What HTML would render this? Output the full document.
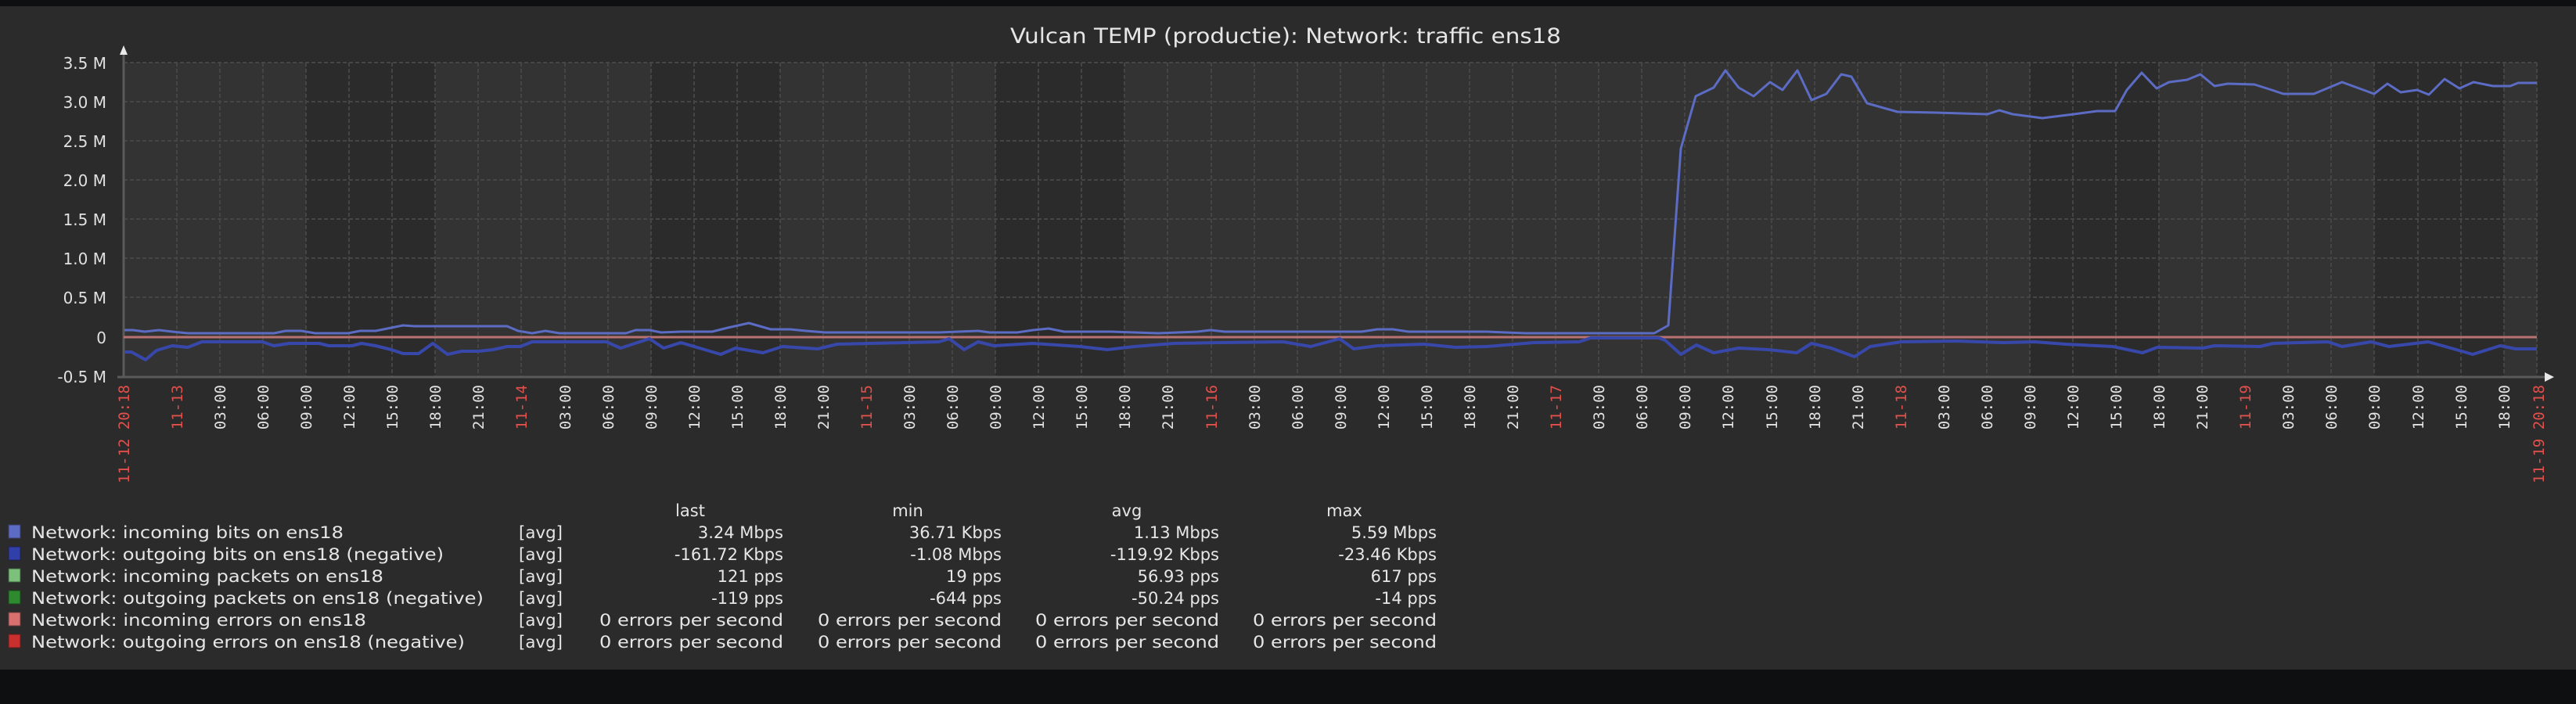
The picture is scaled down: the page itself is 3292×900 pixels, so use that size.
<!DOCTYPE html>
<html><head><meta charset="utf-8"><style>
html,body{margin:0;padding:0;background:#2b2b2b;width:3292px;height:900px;overflow:hidden}
svg{display:block}
.yl{font-family:"DejaVu Sans","Liberation Sans",sans-serif;font-size:20px;fill:#e0e0e0;text-anchor:end}
.xl{font-family:"DejaVu Sans Mono","Liberation Mono",monospace;font-size:19px;fill:#e2e2e2;text-anchor:end}
.xr{font-family:"DejaVu Sans Mono","Liberation Mono",monospace;font-size:19px;fill:#e0504c;text-anchor:end}
.lg{font-family:"DejaVu Sans","Liberation Sans",sans-serif;font-size:21px;fill:#e6e6e6}
</style></head><body>
<svg width="3292" height="900" xmlns="http://www.w3.org/2000/svg">
<rect x="0" y="0" width="3292" height="900" fill="#2b2b2b"/>
<rect x="0" y="0" width="3292" height="8" fill="#0e0f11"/>
<rect x="0" y="856" width="3292" height="44" fill="#0e0f11"/>
<text x="1643" y="55" font-family="DejaVu Sans, Liberation Sans, sans-serif" font-size="27" fill="#e6e6e6" text-anchor="middle" textLength="704" lengthAdjust="spacingAndGlyphs">Vulcan TEMP (productie): Network: traffic ens18</text>
<rect x="158" y="80" width="3084" height="402" fill="#333333"/>
<g fill="#2b2b2b">
<rect x="391" y="80" width="165" height="402"/>
<rect x="832" y="80" width="165" height="402"/>
<rect x="1272" y="80" width="165" height="402"/>
<rect x="2594" y="80" width="165" height="402"/>
<rect x="3034" y="80" width="166" height="402"/>
</g>
<path d="M158 80H3242M158 130H3242M158 180H3242M158 230H3242M158 280H3242M158 330H3242M158 380H3242" stroke="#454545" stroke-width="2" stroke-dasharray="5,3"/>
<path d="M226 80V482M281 80V482M336 80V482M391 80V482M446 80V482M501 80V482M556 80V482M611 80V482M666 80V482M722 80V482M777 80V482M832 80V482M887 80V482M942 80V482M997 80V482M1052 80V482M1107 80V482M1162 80V482M1217 80V482M1272 80V482M1327 80V482M1382 80V482M1437 80V482M1492 80V482M1548 80V482M1603 80V482M1658 80V482M1713 80V482M1768 80V482M1823 80V482M1878 80V482M1933 80V482M1988 80V482M2043 80V482M2098 80V482M2153 80V482M2208 80V482M2264 80V482M2319 80V482M2374 80V482M2429 80V482M2484 80V482M2539 80V482M2594 80V482M2649 80V482M2704 80V482M2759 80V482M2814 80V482M2869 80V482M2924 80V482M2979 80V482M3034 80V482M3090 80V482M3145 80V482M3200 80V482M3242 80V482" stroke="#454545" stroke-width="2" stroke-dasharray="5,3"/>
<path d="M158 66V482M150 482H3252" stroke="#5a5a5a" stroke-width="3"/>
<polygon points="158,58 153,70 163,70" fill="#e8e8e8"/>
<polygon points="3264,482 3252,476 3252,488" fill="#e8e8e8"/>
<text class="yl" x="136" y="88">3.5 M</text>
<text class="yl" x="136" y="138">3.0 M</text>
<text class="yl" x="136" y="188">2.5 M</text>
<text class="yl" x="136" y="238">2.0 M</text>
<text class="yl" x="136" y="288">1.5 M</text>
<text class="yl" x="136" y="338">1.0 M</text>
<text class="yl" x="136" y="388">0.5 M</text>
<text class="yl" x="136" y="439">0</text>
<text class="yl" x="136" y="489">-0.5 M</text>
<line x1="158" y1="431" x2="3242" y2="431" stroke="#b87272" stroke-width="3"/>
<polyline fill="none" stroke="#3848aa" stroke-width="4" stroke-linejoin="round" points="159,450 168,450 186,460 200,448 220,442 240,444 258,437 335,437 350,442 370,439 408,439 420,442 450,442 462,439 480,442 500,447 515,452 535,452 553,439 572,453 590,449 612,449 630,447 648,443 665,443 680,437 775,437 793,445 830,433 848,445 870,438 921,453 940,445 975,451 1000,443 1045,446 1070,440 1200,437 1213,433 1232,447 1250,437 1270,442 1320,439 1380,443 1415,447 1450,443 1500,439 1560,438 1640,437 1675,443 1712,433 1730,446 1760,442 1820,440 1860,444 1900,443 1960,438 2018,437 2033,432 2120,432 2128,435 2148,453 2168,441 2190,451 2222,445 2260,447 2296,451 2315,439 2340,445 2370,456 2390,443 2430,437 2500,436 2560,438 2600,437 2640,440 2700,443 2738,451 2757,444 2815,445 2830,442 2888,443 2905,439 2975,437 2993,443 3030,437 3053,443 3103,437 3125,443 3160,453 3195,442 3215,446 3242,446"/>
<polyline fill="none" stroke="#5c6cc4" stroke-width="3" stroke-linejoin="round" points="159,422 170,422 185,424 203,422 220,424 240,426 350,426 365,423 385,423 403,426 445,426 460,423 480,423 500,419 515,416 530,417 648,417 662,423 680,426 697,423 715,426 800,426 812,422 830,422 845,425 870,424 910,424 930,419 957,413 985,421 1010,421 1030,423 1055,425 1200,425 1250,423 1265,425 1300,425 1320,422 1340,420 1360,424 1400,424 1420,424 1480,426 1530,424 1547,422 1565,424 1740,424 1760,421 1780,421 1800,424 1900,424 1950,426 2114,426 2132,416 2148,190 2167,123 2190,112 2205,90 2222,112 2241,123 2262,105 2278,115 2297,90 2315,128 2334,120 2353,95 2366,98 2386,132 2425,143 2475,144 2540,146 2555,141 2572,146 2610,151 2650,146 2680,142 2703,142 2718,115 2737,93 2756,113 2772,105 2795,102 2812,95 2830,110 2847,107 2881,108 2903,115 2918,120 2957,120 2993,105 3034,120 3051,107 3068,118 3089,115 3104,121 3124,101 3143,113 3161,105 3186,110 3208,110 3218,106 3242,106"/>
<text class="xr" transform="translate(165,492) rotate(-90)">11-12 20:18</text>
<text class="xr" transform="translate(233,492) rotate(-90)">11-13</text>
<text class="xl" transform="translate(288,492) rotate(-90)">03:00</text>
<text class="xl" transform="translate(343,492) rotate(-90)">06:00</text>
<text class="xl" transform="translate(398,492) rotate(-90)">09:00</text>
<text class="xl" transform="translate(453,492) rotate(-90)">12:00</text>
<text class="xl" transform="translate(508,492) rotate(-90)">15:00</text>
<text class="xl" transform="translate(563,492) rotate(-90)">18:00</text>
<text class="xl" transform="translate(618,492) rotate(-90)">21:00</text>
<text class="xr" transform="translate(673,492) rotate(-90)">11-14</text>
<text class="xl" transform="translate(729,492) rotate(-90)">03:00</text>
<text class="xl" transform="translate(784,492) rotate(-90)">06:00</text>
<text class="xl" transform="translate(839,492) rotate(-90)">09:00</text>
<text class="xl" transform="translate(894,492) rotate(-90)">12:00</text>
<text class="xl" transform="translate(949,492) rotate(-90)">15:00</text>
<text class="xl" transform="translate(1004,492) rotate(-90)">18:00</text>
<text class="xl" transform="translate(1059,492) rotate(-90)">21:00</text>
<text class="xr" transform="translate(1114,492) rotate(-90)">11-15</text>
<text class="xl" transform="translate(1169,492) rotate(-90)">03:00</text>
<text class="xl" transform="translate(1224,492) rotate(-90)">06:00</text>
<text class="xl" transform="translate(1279,492) rotate(-90)">09:00</text>
<text class="xl" transform="translate(1334,492) rotate(-90)">12:00</text>
<text class="xl" transform="translate(1389,492) rotate(-90)">15:00</text>
<text class="xl" transform="translate(1444,492) rotate(-90)">18:00</text>
<text class="xl" transform="translate(1499,492) rotate(-90)">21:00</text>
<text class="xr" transform="translate(1555,492) rotate(-90)">11-16</text>
<text class="xl" transform="translate(1610,492) rotate(-90)">03:00</text>
<text class="xl" transform="translate(1665,492) rotate(-90)">06:00</text>
<text class="xl" transform="translate(1720,492) rotate(-90)">09:00</text>
<text class="xl" transform="translate(1775,492) rotate(-90)">12:00</text>
<text class="xl" transform="translate(1830,492) rotate(-90)">15:00</text>
<text class="xl" transform="translate(1885,492) rotate(-90)">18:00</text>
<text class="xl" transform="translate(1940,492) rotate(-90)">21:00</text>
<text class="xr" transform="translate(1995,492) rotate(-90)">11-17</text>
<text class="xl" transform="translate(2050,492) rotate(-90)">03:00</text>
<text class="xl" transform="translate(2105,492) rotate(-90)">06:00</text>
<text class="xl" transform="translate(2160,492) rotate(-90)">09:00</text>
<text class="xl" transform="translate(2215,492) rotate(-90)">12:00</text>
<text class="xl" transform="translate(2271,492) rotate(-90)">15:00</text>
<text class="xl" transform="translate(2326,492) rotate(-90)">18:00</text>
<text class="xl" transform="translate(2381,492) rotate(-90)">21:00</text>
<text class="xr" transform="translate(2436,492) rotate(-90)">11-18</text>
<text class="xl" transform="translate(2491,492) rotate(-90)">03:00</text>
<text class="xl" transform="translate(2546,492) rotate(-90)">06:00</text>
<text class="xl" transform="translate(2601,492) rotate(-90)">09:00</text>
<text class="xl" transform="translate(2656,492) rotate(-90)">12:00</text>
<text class="xl" transform="translate(2711,492) rotate(-90)">15:00</text>
<text class="xl" transform="translate(2766,492) rotate(-90)">18:00</text>
<text class="xl" transform="translate(2821,492) rotate(-90)">21:00</text>
<text class="xr" transform="translate(2876,492) rotate(-90)">11-19</text>
<text class="xl" transform="translate(2931,492) rotate(-90)">03:00</text>
<text class="xl" transform="translate(2986,492) rotate(-90)">06:00</text>
<text class="xl" transform="translate(3041,492) rotate(-90)">09:00</text>
<text class="xl" transform="translate(3097,492) rotate(-90)">12:00</text>
<text class="xl" transform="translate(3152,492) rotate(-90)">15:00</text>
<text class="xl" transform="translate(3207,492) rotate(-90)">18:00</text>
<text class="xr" transform="translate(3251,492) rotate(-90)">11-19 20:18</text>
<g class="lg" text-anchor="middle">
<text x="882" y="660">last</text><text x="1160" y="660">min</text><text x="1440" y="660">avg</text><text x="1718" y="660">max</text>
</g>
<rect x="11" y="671" width="15" height="17" fill="#5c6cc4" stroke="#3a3a6a" stroke-width="1"/>
<rect x="11" y="699" width="15" height="17" fill="#3040a8" stroke="#202050" stroke-width="1"/>
<rect x="11" y="727" width="15" height="17" fill="#7cc07c" stroke="#3a5a3a" stroke-width="1"/>
<rect x="11" y="755" width="15" height="17" fill="#2e8a2e" stroke="#1a4a1a" stroke-width="1"/>
<rect x="11" y="783" width="15" height="17" fill="#d87070" stroke="#6a3a3a" stroke-width="1"/>
<rect x="11" y="811" width="15" height="17" fill="#c83030" stroke="#6a1a1a" stroke-width="1"/>
<g class="lg">
<text x="40" y="688" textLength="399" lengthAdjust="spacingAndGlyphs">Network: incoming bits on ens18</text>
<text x="40" y="716" textLength="527" lengthAdjust="spacingAndGlyphs">Network: outgoing bits on ens18 (negative)</text>
<text x="40" y="744" textLength="450" lengthAdjust="spacingAndGlyphs">Network: incoming packets on ens18</text>
<text x="40" y="772" textLength="578" lengthAdjust="spacingAndGlyphs">Network: outgoing packets on ens18 (negative)</text>
<text x="40" y="800" textLength="428" lengthAdjust="spacingAndGlyphs">Network: incoming errors on ens18</text>
<text x="40" y="828" textLength="554" lengthAdjust="spacingAndGlyphs">Network: outgoing errors on ens18 (negative)</text>
<text x="663" y="688" textLength="56" lengthAdjust="spacingAndGlyphs">[avg]</text>
<text x="663" y="716" textLength="56" lengthAdjust="spacingAndGlyphs">[avg]</text>
<text x="663" y="744" textLength="56" lengthAdjust="spacingAndGlyphs">[avg]</text>
<text x="663" y="772" textLength="56" lengthAdjust="spacingAndGlyphs">[avg]</text>
<text x="663" y="800" textLength="56" lengthAdjust="spacingAndGlyphs">[avg]</text>
<text x="663" y="828" textLength="56" lengthAdjust="spacingAndGlyphs">[avg]</text>
</g>
<g class="lg" text-anchor="end">
<text x="1001" y="688">3.24 Mbps</text><text x="1280" y="688">36.71 Kbps</text><text x="1558" y="688">1.13 Mbps</text><text x="1836" y="688">5.59 Mbps</text>
<text x="1001" y="716">-161.72 Kbps</text><text x="1280" y="716">-1.08 Mbps</text><text x="1558" y="716">-119.92 Kbps</text><text x="1836" y="716">-23.46 Kbps</text>
<text x="1001" y="744">121 pps</text><text x="1280" y="744">19 pps</text><text x="1558" y="744">56.93 pps</text><text x="1836" y="744">617 pps</text>
<text x="1001" y="772">-119 pps</text><text x="1280" y="772">-644 pps</text><text x="1558" y="772">-50.24 pps</text><text x="1836" y="772">-14 pps</text>
</g>
<g class="lg">
<text x="766" y="800" textLength="235" lengthAdjust="spacingAndGlyphs">0 errors per second</text>
<text x="1045" y="800" textLength="235" lengthAdjust="spacingAndGlyphs">0 errors per second</text>
<text x="1323" y="800" textLength="235" lengthAdjust="spacingAndGlyphs">0 errors per second</text>
<text x="1601" y="800" textLength="235" lengthAdjust="spacingAndGlyphs">0 errors per second</text>
<text x="766" y="828" textLength="235" lengthAdjust="spacingAndGlyphs">0 errors per second</text>
<text x="1045" y="828" textLength="235" lengthAdjust="spacingAndGlyphs">0 errors per second</text>
<text x="1323" y="828" textLength="235" lengthAdjust="spacingAndGlyphs">0 errors per second</text>
<text x="1601" y="828" textLength="235" lengthAdjust="spacingAndGlyphs">0 errors per second</text>
</g>
</svg>
</body></html>
